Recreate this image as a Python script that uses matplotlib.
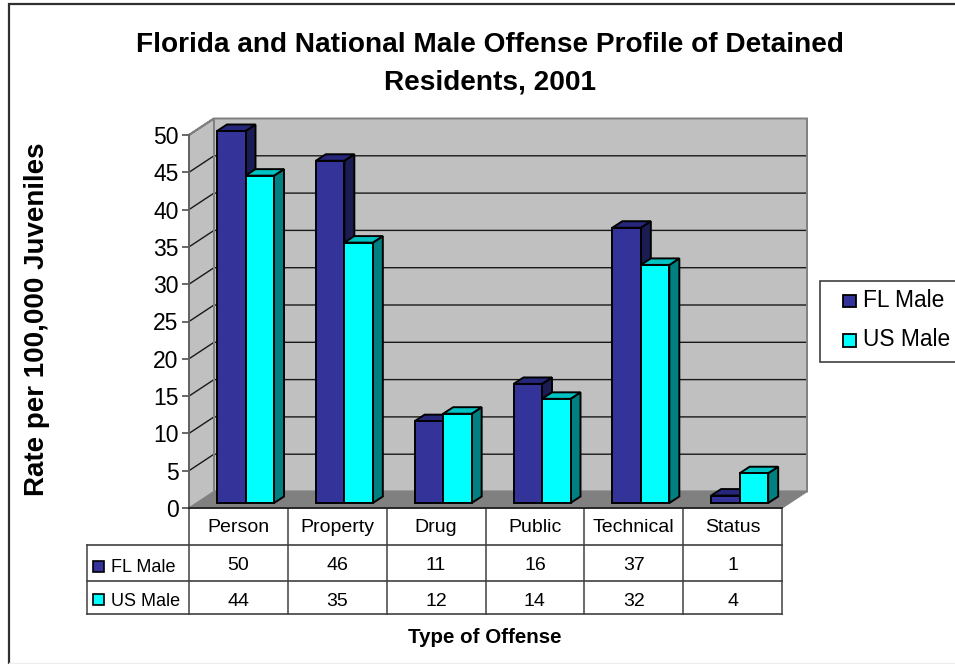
import matplotlib
matplotlib.use("Agg")
import matplotlib.pyplot as plt
from matplotlib.patches import Polygon, Rectangle

plt.rcParams["font.family"] = ["Liberation Sans", "DejaVu Sans"]

categories = ["Person", "Property", "Drug", "Public", "Technical", "Status"]
fl_male = [50, 46, 11, 16, 37, 1]
us_male = [44, 35, 12, 14, 32, 4]
series_names = ["FL Male", "US Male"]
y_ticks = [0, 5, 10, 15, 20, 25, 30, 35, 40, 45, 50]

W, H = 955, 664
GRAY = "#c0c0c0"
FLOOR = "#808080"
FL = ("#333399", "#1c1c54", "#26267a")
US = ("#00ffff", "#008080", "#00c4c4")


def px_axes(fig, x0, y0, x1, y1):
    # y0 is the top edge in image pixels
    return fig.add_axes([x0 / W, 1 - y1 / H, (x1 - x0) / W, (y1 - y0) / H])


fig = plt.figure(figsize=(W / 100, H / 100), dpi=100)

# overlay in image pixels, for frame, table and legend
over = fig.add_axes([0, 0, 1, 1], zorder=0)
over.set_xlim(0, W)
over.set_ylim(H, 0)
over.axis("off")

ax = px_axes(fig, 189, 135, 782, 508)
ax.set_zorder(1)
ax.patch.set_visible(False)
ax.set_xlim(0, 6)
ax.set_ylim(0, 50)

# depth of the 3d box, in data units
unit_x = 593 / 6
unit_y = 373 / 50
dx = 25 / unit_x
dy = 16.5 / unit_y
# bars stand mid-depth
bar_w = 28.5 / unit_x
gap = 28 / unit_x
bdx = 10 / unit_x
bdy = 6.5 / unit_y
off_y = 5 / unit_y


def poly(pts, fc, ec="black", lw=1.4, z=2):
    ax.add_patch(Polygon(pts, closed=True, fc=fc, ec=ec, lw=lw, zorder=z,
                         clip_on=False, joinstyle="miter"))


# walls
poly([(dx, dy), (6 + dx, dy), (6 + dx, 50 + dy), (dx, 50 + dy)], GRAY, "none", 0, 1)
poly([(0, 0), (dx, dy), (dx, 50 + dy), (0, 50)], GRAY, "none", 0, 1)
poly([(0, 0), (6, 0), (6 + dx, dy), (dx, dy)], FLOOR, FLOOR, 1, 1.2)

for t in y_ticks[1:-1]:
    ax.plot([0, dx, 6 + dx], [t, t + dy, t + dy], color="#181818", lw=1.0,
            zorder=1.5, clip_on=False)
poly([(0, 50), (dx, 50 + dy), (6 + dx, 50 + dy), (6 + dx, dy), (dx, dy), (dx, 50 + dy)],
     "none", FLOOR, 1.4, 1.6)


def bar3d(x, v, cols, z):
    y = off_y
    top = y + v * (372 / 373)
    r = x + bar_w
    poly([(r, y), (r + bdx, y + bdy), (r + bdx, top + bdy), (r, top)], cols[1], z=z)
    poly([(x, top), (r, top), (r + bdx, top + bdy), (x + bdx, top + bdy)], cols[2], z=z)
    poly([(x, y), (r, y), (r, top), (x, top)], cols[0], z=z)


for i in range(len(categories)):
    bar3d(i + gap, fl_male[i], FL, 3 + i)
    bar3d(i + gap + bar_w, us_male[i], US, 3.5 + i)

for s in ["top", "right"]:
    ax.spines[s].set_visible(False)
ax.spines["left"].set_color("#606060")
ax.spines["left"].set_linewidth(1.4)
ax.spines["bottom"].set_color("#202020")
ax.spines["bottom"].set_linewidth(1.3)
ax.spines["left"].set_zorder(2)
ax.set_yticks(y_ticks)
ax.tick_params(axis="y", labelsize=16.5, length=5, width=1.1, color="#404040", pad=2.5)
ax.set_xticks([])

# chart frame
over.plot([9, 9, 955], [664, 4, 4], color="#303030", lw=1.6, solid_joinstyle="miter")
over.plot([9, 955], [662.8, 662.8], color="#eeeeee", lw=1)

over.text(490, 44.5, "Florida and National Male Offense Profile of Detained",
          ha="center", va="center", fontsize=20.2, fontweight="bold")
over.text(490, 82, "Residents, 2001", ha="center", va="center", fontsize=20.2,
          fontweight="bold")
over.text(37, 319, "Rate per 100,000 Juveniles", rotation=90, ha="center", va="center",
          fontsize=20, fontweight="bold")

# data table
col_w = 593 / 6
for k in range(7):
    over.plot([189 + k * col_w] * 2, [508, 614], color="#505050", lw=1.2)
over.plot([87, 87], [545, 614], color="#505050", lw=1.2)
for yy in [545, 581, 614]:
    over.plot([87, 782], [yy, yy], color="#404040", lw=1.2)
for i, c in enumerate(categories):
    cx = 189 + (i + 0.5) * col_w
    over.text(cx, 527, c, ha="center", va="center", fontsize=14)
    over.text(cx, 566, str(fl_male[i]), ha="center", va="center", fontsize=14)
    over.text(cx, 601, str(us_male[i]), ha="center", va="center", fontsize=14)
for yy, name, col in zip([566, 599], series_names, [FL[0], US[0]]):
    over.add_patch(Rectangle((92.5, yy - 5.5), 11, 11, fc=col, ec="black", lw=1.2))
    over.text(111, yy + 2, name, ha="left", va="center", fontsize=13)
over.text(485, 637.5, "Type of Offense", ha="center", va="center", fontsize=14.8,
          fontweight="bold")

# legend
over.add_patch(Rectangle((820, 281), 140, 81, fc="white", ec="#404040", lw=1.2, clip_on=True))
for yy, name, col in zip([300.5, 340], series_names, [FL[0], US[0]]):
    over.add_patch(Rectangle((843, yy - 6), 12.5, 12.5, fc=col, ec="black", lw=1.3))
    over.text(863, yy, name, ha="left", va="center", fontsize=16.4)

fig.savefig("out.png", dpi=100)
